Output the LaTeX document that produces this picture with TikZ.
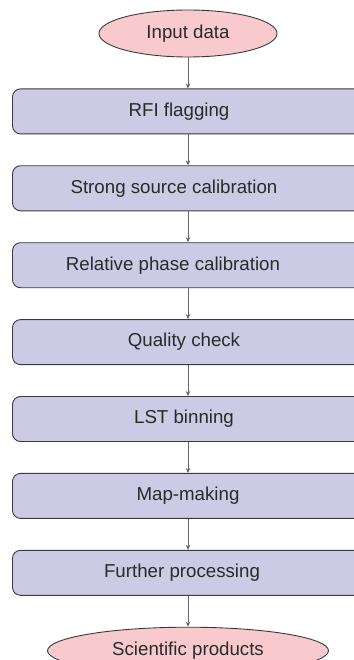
\documentclass[tikz,border=0pt]{standalone}
\usepackage{fontspec}
\setmainfont{Liberation Sans}
\usepackage{xcolor}
\usepackage{tikz}
\usetikzlibrary{arrows.meta,positioning,shapes.geometric}
\definecolor{Pink}{HTML}{F8CACD}
\definecolor{Lilac}{HTML}{CDCAE6}
\definecolor{Edge}{HTML}{3A3A3A}
\definecolor{Ink}{HTML}{2A2A2A}

\begin{document}
\begin{tikzpicture}[x=1pt,y=1pt,font=\fontsize{18.7}{21}\selectfont,text=Ink,>={Stealth[length=5pt,width=4.5pt]},node distance=31pt]
  \useasboundingbox (0,0) rectangle (353,-660);
  \tikzset{
    terminal/.style={ellipse,draw=Edge,line width=0.9pt,fill=Pink,inner sep=0pt,minimum height=47pt},
    stage/.style={draw=Edge,line width=0.9pt,rounded corners=8pt,fill=Lilac,minimum width=351pt,minimum height=45pt,inner sep=0pt},
    flow/.style={->,draw=black!60,line width=0.9pt}
  }
  \node[terminal,minimum width=178pt] (in) at (188,-33.5) {Input data};
  \node[stage,below=of in] (rfi) {\hspace*{-18pt}RFI flagging};
  \node[stage,below=of rfi] (ssc) {\hspace*{-28pt}Strong source calibration};
  \node[stage,below=of ssc] (rpc) {\hspace*{-30pt}Relative phase calibration};
  \node[stage,below=of rpc] (qc) {\hspace*{-8pt}Quality check};
  \node[stage,below=of qc] (lst) {\hspace*{-8pt}LST binning};
  \node[stage,below=of lst] (map) {Map-making};
  \node[stage,below=of map] (fp) {\hspace*{-12pt}Further processing};
  \node[terminal,minimum width=281pt,below=of fp] (out) {Scientific products};
  \foreach \a/\b in {in/rfi,rfi/ssc,ssc/rpc,rpc/qc,qc/lst,lst/map,map/fp,fp/out}
    \draw[flow] (\a) -- (\b);
\end{tikzpicture}
\end{document}
